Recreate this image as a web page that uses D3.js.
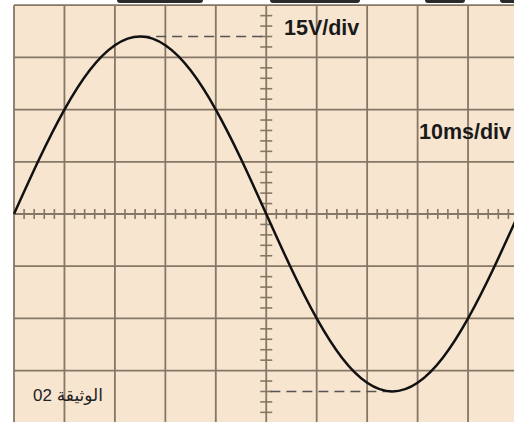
<!DOCTYPE html>
<html>
<head>
<meta charset="utf-8">
<script src="https://cdn.jsdelivr.net/npm/d3@7"></script>
<style>
  html, body { margin: 0; padding: 0; background: #fff; }
  svg { display: block; }
</style>
</head>
<body>
<svg width="514" height="422"></svg>
<script>
// oscilloscope trace, 15 V/div and 10 ms/div
const timeMs = [0, 5, 10, 15, 20, 25, 30, 35, 40, 45, 50, 55, 60, 65, 70, 75, 80, 85, 90, 95, 100];
const volts  = [0, 15.8, 30, 41.3, 48.5, 51, 48.5, 41.3, 30, 15.8, 0, -15.8, -30, -41.3, -48.5, -51, -48.5, -41.3, -30, -15.8, 0];
const timeTicks = d3.range(0, 101, 10);
const voltTicks = d3.range(-60, 61, 15);
const voltLabel = "15V/div";
const timeLabel = "10ms/div";
const docLabel = "الوثيقة 02";

const svg = d3.select("svg");
const x = d3.scaleLinear().domain([0, 100]).range([14, 14 + 10 * 50.45]);
const y = d3.scaleLinear().domain([-60, 60]).range([214 + 4 * 52.2, 214 - 4 * 52.2]);

const gridColor = "#857766";

svg.append("rect")
  .attr("x", x(0)).attr("y", y(60))
  .attr("width", x(100) - x(0)).attr("height", y(-60) - y(60))
  .attr("fill", "#f7e5d0");

// bits of cut-off text above the screen
const scraps = [[117, 203], [270, 360], [425, 465], [500, 516]];
svg.append("g").selectAll("rect").data(scraps).join("rect")
  .attr("x", d => d[0]).attr("y", -3)
  .attr("width", d => d[1] - d[0]).attr("height", 6)
  .attr("rx", 3).attr("fill", "#2a2a2a");

const grid = svg.append("g").attr("stroke", gridColor).attr("stroke-width", 1.8);
grid.selectAll(".v").data(timeTicks).join("line")
  .attr("x1", d => x(d)).attr("x2", d => x(d))
  .attr("y1", y(60)).attr("y2", y(-60));
grid.selectAll(".h").data(voltTicks).join("line")
  .attr("x1", x(0)).attr("x2", x(100))
  .attr("y1", d => y(d)).attr("y2", d => y(d));

// small ticks on the centre axes
const minorT = d3.range(0, 100.1, 2).filter(t => t % 10 !== 0);
const minorV = d3.range(-60, 60.1, 3).filter(v => v % 15 !== 0);
const ticks = svg.append("g").attr("stroke", gridColor).attr("stroke-width", 1.6);
ticks.selectAll(".tt").data(minorT).join("line")
  .attr("x1", d => x(d)).attr("x2", d => x(d))
  .attr("y1", y(0) - 5).attr("y2", y(0) + 5);
ticks.selectAll(".tv").data(minorV).join("line")
  .attr("x1", x(50) - 6).attr("x2", x(50) + 6)
  .attr("y1", d => y(d)).attr("y2", d => y(d));

// dashed guides from the peaks to the centre line
const iMax = d3.maxIndex(volts), iMin = d3.minIndex(volts);
const guides = [[timeMs[iMax], volts[iMax]], [timeMs[iMin], volts[iMin]]];
svg.append("g").selectAll("line").data(guides).join("line")
  .attr("x1", d => x(d[0])).attr("x2", x(50))
  .attr("y1", d => y(d[1])).attr("y2", d => y(d[1]))
  .attr("stroke", "#555").attr("stroke-width", 1.4)
  .attr("stroke-dasharray", "10,6");

const line = d3.line()
  .x((d, i) => x(timeMs[i]))
  .y(d => y(d))
  .curve(d3.curveNatural);

svg.append("path")
  .datum(volts)
  .attr("d", line)
  .attr("fill", "none")
  .attr("stroke", "#111")
  .attr("stroke-width", 2.5);

svg.append("text")
  .attr("x", 284).attr("y", 35)
  .attr("font-family", "Liberation Sans, Arial, sans-serif")
  .attr("font-weight", "bold").attr("font-size", 21.5)
  .attr("fill", "#1a1a1a")
  .text(voltLabel);

svg.append("text")
  .attr("x", 419).attr("y", 139)
  .attr("font-family", "Liberation Sans, Arial, sans-serif")
  .attr("font-weight", "bold").attr("font-size", 21.5)
  .attr("fill", "#1a1a1a")
  .text(timeLabel);

svg.append("text")
  .attr("x", 68).attr("y", 401)
  .attr("text-anchor", "middle")
  .attr("direction", "rtl")
  .style("unicode-bidi", "embed")
  .attr("font-family", "Liberation Sans, DejaVu Sans, sans-serif")
  .attr("font-size", 17)
  .attr("fill", "#222")
  .text(docLabel);
</script>
</body>
</html>
